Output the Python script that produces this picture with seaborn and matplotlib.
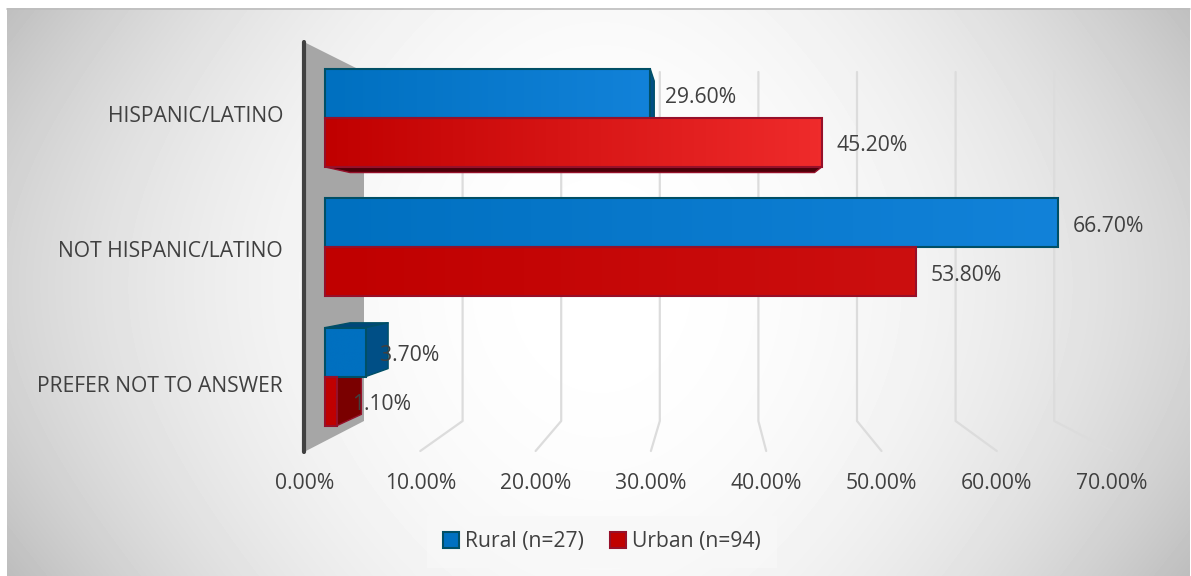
import numpy as np
import pandas as pd
import seaborn as sns
import matplotlib.pyplot as plt
from matplotlib.colors import LinearSegmentedColormap
from matplotlib.patches import Polygon, Rectangle

categories = ['HISPANIC/LATINO', 'NOT HISPANIC/LATINO', 'PREFER NOT TO ANSWER']
groups = ['Rural (n=27)', 'Urban (n=94)']
rural = [29.6, 66.7, 3.7]
urban = [45.2, 53.8, 1.1]
x_ticks = [0, 10, 20, 30, 40, 50, 60, 70]

W, H = 1191, 576
TEXT = '#404040'
FS = 15.2

sns.set_theme(style='white')
plt.rcParams['font.family'] = ['Open Sans', 'DejaVu Sans']

df = pd.DataFrame({
    'category': categories * 2,
    'group': [groups[0]] * 3 + [groups[1]] * 3,
    'value': rural + urban,
})

fig = plt.figure(figsize=(W / 100, H / 100), dpi=100, facecolor='white')

# fond en degrade, en coordonnees pixel
bg = fig.add_axes([0, 0, 1, 1])
yy, xx = np.mgrid[8:576, 7:1190]
dx = (np.abs(xx - 600) / 590) ** 2
dy = (np.abs(yy - 285) / 285) ** 2
shade = 255 - (42 * dx + 7 * dy + 16 * dx * dy)
bg.imshow(shade, cmap='gray', vmin=0, vmax=255, extent=(7, 1190, 576, 8), aspect='auto')
bg.plot([7, 1190], [8.5, 8.5], color='#bdbdbd', lw=1.2)
bg.set_xlim(0, W)
bg.set_ylim(H, 0)
bg.axis('off')

# parede do fundo
bg.add_patch(Polygon([(304, 42), (364, 72), (364, 421), (304, 452)], color='#a6a6a6', lw=0))
for t in x_ticks:
    back = 364 + 9.86 * t
    front = 305 + 11.53 * t
    if t > 0:
        bg.plot([back, back, front], [72, 421, 451], color='#dcdcdc', lw=1.6)
bg.plot([304, 304], [42, 452], color=TEXT, lw=3, solid_capstyle='round')

ax = fig.add_axes([304 / W, 1 - 452 / H, (1190 - 304) / W, (452 - 42) / H])
ax.patch.set_alpha(0)
sns.barplot(data=df, y='category', x='value', hue='group', width=0.757, gap=0,
            palette=['#0070c0', '#c00000'], linewidth=0, saturation=1, ax=ax)

PX = 10.99
ax.set_xlim((304 - 325) / PX, (1190 - 325) / PX)
ax.set_ylim((452 - 118) / 129.3, (42 - 118) / 129.3)

ax.set_xticks([(305 + 11.53 * t - 325) / PX for t in x_ticks], [f'{t:.2f}%' for t in x_ticks])
ax.set_yticks([(py - 118) / 129.3 for py in (113.5, 249, 384.5)], categories)
ax.set_xlabel('')
ax.set_ylabel('')
ax.tick_params(axis='x', length=0, pad=15, labelsize=FS, labelcolor=TEXT)
ax.tick_params(axis='y', length=0, pad=15, labelsize=FS, labelcolor=TEXT)
sns.despine(ax=ax, left=True, bottom=True)


def project(px, py):
    # ponto da face de tras da barra
    k = 0.935
    return 711 + (px - 711) * k, 253 + (py - 253) * k


edges = ['#004f66', '#96102a']
side_faces = ['#004f86', '#7a0000']
flat_faces = ['#00477a', '#4d0008']
left_cols = ['#0070c0', '#c00000']
right_cols = [['#1282d9', '#1282d9', '#0070c0'], ['#ef2b2b', '#cc0f0f', '#c00000']]

for g, cont in enumerate(ax.containers[:2]):
    for i, bar in enumerate(cont):
        x0, y0 = bar.get_x(), bar.get_y()
        x1, y1 = x0 + bar.get_width(), y0 + bar.get_height()

        # faces 3D a partir do retangulo da barra, so as visiveis
        (ax0, ay0), (ax1, ay1) = ax.transData.transform([(x0, y0), (x1, y1)])
        left, right = ax0, ax1
        top, bottom = H - ay0, H - ay1
        corners = {'tl': (left, top), 'tr': (right, top), 'bl': (left, bottom), 'br': (right, bottom)}
        back = {k: project(*v) for k, v in corners.items()}
        faces = []
        if top - back['tl'][1] > 1:
            faces.append(([corners['tl'], corners['tr'], back['tr'], back['tl']], flat_faces[g]))
        if back['bl'][1] - bottom > 1:
            faces.append(([corners['bl'], corners['br'], back['br'], back['bl']], flat_faces[g]))
        if back['tr'][0] - right > 1:
            faces.append(([corners['tr'], corners['br'], back['br'], back['tr']], side_faces[g]))
        for pts, col in faces:
            bg.add_patch(Polygon(pts, facecolor=col, edgecolor=edges[g], lw=1,
                                 joinstyle='round', zorder=3))

        cmap = LinearSegmentedColormap.from_list('bar', [left_cols[g], right_cols[g][i]])
        img = ax.imshow(np.linspace(0, 1, 128).reshape(1, -1), cmap=cmap, aspect='auto',
                        extent=(x0, x1, y1, y0), zorder=1.2)
        img.set_clip_path(bar)
        ax.add_patch(Rectangle((x0, y0), x1 - x0, y1 - y0, fill=False,
                               edgecolor=edges[g], lw=1.5, zorder=1.3))
    labels = ax.bar_label(cont, fmt='%.2f%%', padding=10, fontsize=FS, color=TEXT)
    for lab in labels:
        lab.xyann = (10.5, -2.5)

ax.set_xlim((304 - 325) / PX, (1190 - 325) / PX)
ax.set_ylim((452 - 118) / 129.3, (42 - 118) / 129.3)

sns.move_legend(ax, 'center', bbox_to_anchor=(602 / W, 1 - 542 / H),
                bbox_transform=fig.transFigure, ncol=2, title=None, frameon=True,
                fontsize=FS, handlelength=0.75, handleheight=0.75, handletextpad=0.3,
                columnspacing=1.25, borderpad=0.75, fancybox=False,
                facecolor='#f8f8f8', edgecolor='none', framealpha=0.8, labelcolor=TEXT)
for h, col in zip(ax.get_legend().get_patches(), edges):
    h.set_edgecolor(col)
    h.set_linewidth(1.5)

fig.savefig('out.png', dpi=100)
